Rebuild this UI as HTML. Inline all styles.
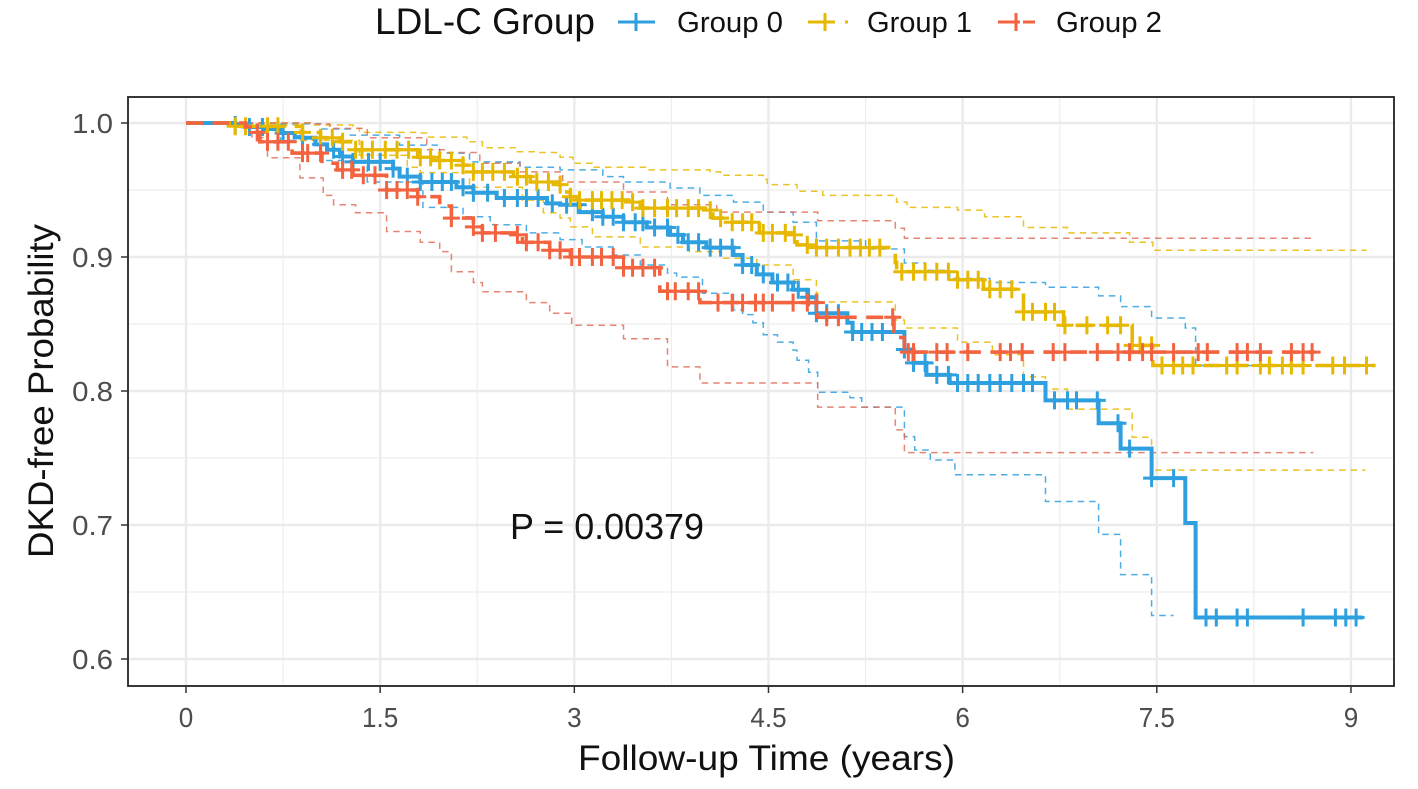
<!DOCTYPE html>
<html lang="en">
<head>
<meta charset="utf-8">
<title>DKD-free Probability by LDL-C Group</title>
<style>
html,body{margin:0;padding:0;background:#fff;}
svg{display:block;font-family:"Liberation Sans",sans-serif;}
</style>
</head>
<body>
<svg id="chart" xmlns="http://www.w3.org/2000/svg" width="1418" height="789" viewBox="0 0 1418 789">
  <rect x="0" y="0" width="1418" height="789" fill="#ffffff"/>
  <g id="grid"></g>
  <g id="marks"></g>
  <rect x="128" y="97" width="1266" height="589" fill="none" stroke="#222222" stroke-width="1.8"/>
  <g id="axes"></g>
  <text x="578" y="770" font-size="35" fill="#111" textLength="377" lengthAdjust="spacingAndGlyphs">Follow-up Time (years)</text>
  <text transform="translate(53,558) rotate(-90)" font-size="35" fill="#111" textLength="334" lengthAdjust="spacingAndGlyphs">DKD-free Probability</text>
  <text x="510" y="539" font-size="36" fill="#111" textLength="194" lengthAdjust="spacingAndGlyphs">P = 0.00379</text>
  <g>
    <text x="375" y="34" font-size="37" fill="#111" textLength="220" lengthAdjust="spacingAndGlyphs">LDL-C Group</text>
    <g>
      <path d="M618 22H655M636 13V31" stroke="#2E9FDF" stroke-width="3" fill="none"/>
      <text x="677" y="32" font-size="29" fill="#111" textLength="106" lengthAdjust="spacingAndGlyphs">Group 0</text>
    </g>
    <g>
      <path d="M808 22H835M845 22H848M825 13V31" stroke="#E7B800" stroke-width="3" fill="none"/>
      <text x="867" y="32" font-size="29" fill="#111" textLength="105" lengthAdjust="spacingAndGlyphs">Group 1</text>
    </g>
    <g>
      <path d="M998 22H1020M1023 22H1035M1016 13V31" stroke="#F4633F" stroke-width="3" fill="none"/>
      <text x="1056" y="32" font-size="29" fill="#111" textLength="106" lengthAdjust="spacingAndGlyphs">Group 2</text>
    </g>
  </g>
</svg>
<script>
const xTickValues = [0, 1.5, 3, 4.5, 6, 7.5, 9];
const xTickLabels = ['0', '1.5', '3', '4.5', '6', '7.5', '9'];
const xMinorValues = [0.75, 2.25, 3.75, 5.25, 6.75, 8.25];
const yTickValues = [0.6, 0.7, 0.8, 0.9, 1.0];
const yTickLabels = ['0.6', '0.7', '0.8', '0.9', '1.0'];
const yMinorValues = [0.65, 0.75, 0.85, 0.95];

const group0Curve = [[0,1],[.38,.9985],[.49,.997],[.61,.9955],[.73,.9925],[.84,.9895],[.90,.989],[1.0,.984],[1.09,.98],[1.19,.975],[1.29,.971],[1.60,.966],[1.65,.96],[1.81,.956],[2.09,.952],[2.22,.948],[2.40,.944],[2.79,.94],[2.89,.939],[3.04,.9335],[3.22,.93],[3.38,.926],[3.56,.922],[3.74,.9165],[3.84,.911],[4.02,.907],[4.23,.9015],[4.30,.894],[4.41,.887],[4.53,.881],[4.69,.8755],[4.80,.87],[4.87,.858],[5.11,.851],[5.15,.844],[5.55,.831],[5.62,.821],[5.72,.812],[5.90,.806],[6.64,.793],[7.05,.776],[7.22,.757],[7.46,.735],[7.72,.7015],[7.80,.631],[9.09,.631]];
const group0Upper = [[.38,1],[.73,.9993],[1.04,.9955],[1.27,.991],[1.65,.9835],[1.96,.9775],[2.19,.971],[2.58,.967],[2.89,.965],[3.22,.96],[3.38,.956],[3.74,.9515],[3.97,.946],[4.23,.941],[4.46,.9335],[4.69,.926],[4.87,.912],[5.25,.906],[5.55,.8955],[5.71,.89],[5.90,.884],[6.21,.881],[6.64,.8775],[7.05,.871],[7.22,.863],[7.46,.8545],[7.72,.847],[7.80,.819],[9.05,.819]];
const group0Lower = [[.38,.9985],[.73,.987],[1.04,.972],[1.40,.956],[1.83,.937],[2.14,.93],[2.35,.924],[2.63,.918],[2.89,.913],[3.06,.9075],[3.30,.9015],[3.51,.894],[3.72,.888],[3.79,.885],[3.99,.873],[4.23,.8605],[4.30,.857],[4.38,.851],[4.46,.842],[4.57,.8365],[4.69,.8305],[4.72,.823],[4.81,.814],[4.88,.799],[5.13,.795],[5.22,.788],[5.55,.766],[5.63,.756],[5.75,.7485],[5.94,.7375],[6.64,.7175],[7.05,.693],[7.22,.663],[7.46,.6325],[7.63,.6325]];
const group0Censor = [.38,.49,.59,.75,.90,1.04,1.14,1.21,1.29,1.41,1.50,1.60,1.71,1.81,1.90,1.98,2.05,2.14,2.22,2.33,2.46,2.56,2.63,2.72,2.83,2.94,3.03,3.14,3.22,3.30,3.38,3.47,3.53,3.62,3.72,3.80,3.88,3.96,4.05,4.13,4.22,4.30,4.37,4.46,4.57,4.65,4.73,4.81,4.87,4.95,5.04,5.15,5.22,5.30,5.38,5.55,5.62,5.71,5.80,5.89,5.96,6.04,6.12,6.21,6.29,6.38,6.47,6.54,6.71,6.81,6.88,7.04,7.20,7.29,7.46,7.63,7.88,7.96,8.12,8.20,8.63,8.88,8.96,9.04];

const group1Curve = [[0,1],[.35,.9975],[.90,.993],[1.04,.989],[1.19,.986],[1.29,.98],[1.79,.9745],[1.91,.972],[2.14,.9685],[2.22,.9635],[2.53,.96],[2.66,.956],[2.87,.954],[2.91,.9485],[2.97,.945],[3.04,.9425],[3.43,.941],[3.51,.9365],[4.05,.935],[4.07,.929],[4.20,.926],[4.41,.925],[4.43,.918],[4.70,.9165],[4.72,.909],[4.87,.907],[5.48,.896],[5.49,.889],[5.96,.883],[6.16,.876],[6.47,.859],[6.78,.849],[7.31,.834],[7.47,.819],[9.19,.819]];
const group1Upper = [[.38,1],[.98,.9985],[1.29,.996],[1.34,.993],[1.78,.9925],[1.86,.9895],[2.17,.986],[2.29,.9815],[2.56,.9785],[2.71,.978],[2.89,.9745],[2.99,.97],[3.14,.967],[3.55,.965],[4.05,.9635],[4.13,.961],[4.46,.958],[4.49,.954],[4.72,.949],[4.92,.946],[5.49,.941],[5.57,.937],[5.96,.935],[6.17,.93],[6.47,.922],[6.81,.918],[7.29,.911],[7.47,.905],[9.12,.905]];
const group1Lower = [[.38,.9985],[.88,.987],[1.34,.976],[1.71,.967],[1.81,.963],[2.19,.952],[2.60,.9425],[2.76,.933],[2.89,.929],[2.97,.9225],[3.14,.915],[3.51,.9075],[3.89,.904],[4.13,.899],[4.41,.894],[4.69,.883],[4.87,.873],[4.88,.8665],[5.48,.853],[5.55,.847],[5.96,.8365],[6.23,.827],[6.47,.8105],[6.64,.8015],[6.81,.7865],[7.31,.7655],[7.46,.741],[9.11,.741]];
const group1Censor = [.38,.46,.63,.71,.90,1.04,1.13,1.21,1.31,1.36,1.44,1.54,1.63,1.72,1.81,1.89,1.96,2.05,2.14,2.22,2.29,2.37,2.46,2.56,2.63,2.71,2.80,2.89,2.97,3.04,3.14,3.21,3.29,3.37,3.45,3.53,3.62,3.72,3.79,3.88,3.96,4.05,4.13,4.22,4.30,4.37,4.46,4.53,4.63,4.70,4.80,4.87,4.95,5.04,5.13,5.21,5.28,5.36,5.53,5.62,5.71,5.80,5.89,5.96,6.04,6.12,6.21,6.29,6.38,6.47,6.54,6.64,6.71,6.79,6.96,7.12,7.22,7.31,7.37,7.46,7.54,7.63,7.70,7.78,8.04,8.12,8.30,8.37,8.47,8.54,8.63,8.86,8.95,9.12];

const group2Curve = [[0,1],[.46,.997],[.52,.993],[.57,.986],[.82,.9775],[1.05,.97],[1.17,.965],[1.29,.961],[1.55,.95],[1.79,.945],[1.96,.938],[2.05,.929],[2.22,.9225],[2.29,.918],[2.56,.9165],[2.60,.911],[2.81,.905],[2.97,.9],[3.38,.892],[3.66,.8745],[3.97,.866],[4.88,.855],[5.47,.84],[5.55,.829],[8.72,.829]];
const group2Upper = [[.38,1],[.98,.9993],[1.11,.996],[1.40,.989],[1.86,.98],[2.02,.978],[2.27,.97],[2.58,.9635],[2.91,.956],[3.38,.9485],[3.72,.939],[4.10,.9335],[4.88,.927],[5.48,.9215],[5.55,.914],[8.70,.914]];
const group2Lower = [[.38,.9985],[.51,.989],[.63,.974],[.88,.959],[1.06,.946],[1.14,.939],[1.31,.933],[1.55,.919],[1.81,.911],[1.96,.904],[2.05,.889],[2.22,.881],[2.29,.874],[2.63,.866],[2.81,.858],[2.98,.849],[3.38,.839],[3.72,.818],[3.97,.806],[4.88,.788],[5.48,.771],[5.55,.754],[8.71,.754]];
const group2Censor = [.55,.63,.71,.79,.90,.94,1.04,1.21,1.28,1.37,1.46,1.55,1.63,1.71,1.79,2.05,2.22,2.29,2.39,2.56,2.63,2.72,2.81,2.89,2.98,3.04,3.14,3.21,3.30,3.38,3.45,3.53,3.62,3.72,3.78,3.88,3.96,4.11,4.22,4.30,4.40,4.46,4.53,4.69,4.80,4.87,4.95,5.04,5.46,5.58,5.62,5.80,5.88,6.04,6.29,6.37,6.46,6.70,6.79,7.04,7.20,7.29,7.39,7.46,7.63,7.82,7.89,8.12,8.20,8.30,8.54,8.63,8.70];

const SVG_NS = 'http://www.w3.org/2000/svg';
const xScale = t => 186 + t * 129.44;
const yScale = s => 123 + (1 - s) * 1340;

function make(parent, tag, attrs) {
  const el = document.createElementNS(SVG_NS, tag);
  for (const k in attrs) el.setAttribute(k, attrs[k]);
  parent.appendChild(el);
  return el;
}
function stepPath(curve) {
  let d = 'M' + xScale(curve[0][0]).toFixed(1) + ' ' + yScale(curve[0][1]).toFixed(1);
  for (let i = 1; i < curve.length; i++) {
    d += 'H' + xScale(curve[i][0]).toFixed(1) + 'V' + yScale(curve[i][1]).toFixed(1);
  }
  return d;
}
function survivalAt(curve, t) {
  let s = curve[0][1];
  for (const p of curve) { if (p[0] <= t) s = p[1]; else break; }
  return s;
}
function squeeze(label, factor) {
  label.setAttribute('textLength', (label.getComputedTextLength() * factor).toFixed(1));
  label.setAttribute('lengthAdjust', 'spacingAndGlyphs');
}

const grid = document.getElementById('grid');
const axes = document.getElementById('axes');
const marks = document.getElementById('marks');

yMinorValues.forEach(v => {
  const l = make(grid, 'line', {x1: 128, x2: 1394, y1: yScale(v), y2: yScale(v), stroke: '#eeeeee', 'stroke-width': 1.2});
  
  
});
xMinorValues.forEach(v => {
  const l = make(grid, 'line', {x1: xScale(v), x2: xScale(v), y1: 97, y2: 686, stroke: '#eeeeee', 'stroke-width': 1.2});
  
  
});
yTickValues.forEach((v, i) => {
  const y = yScale(v);
  const l = make(grid, 'line', {x1: 128, x2: 1394, y1: y, y2: y, stroke: '#ebebeb', 'stroke-width': 2.4});
  
  
  const t = make(axes, 'line', {x1: 121, x2: 128, y1: y, y2: y, stroke: '#333333', 'stroke-width': 1.5});
  
  
  const label = make(axes, 'text', {x: 113, y: y + 10, 'text-anchor': 'end', 'font-size': 28, fill: '#4d4d4d'});
  label.textContent = yTickLabels[i];
  
  
  squeeze(label, 1.05);
});
xTickValues.forEach((v, i) => {
  const x = xScale(v);
  const l = make(grid, 'line', {x1: x, x2: x, y1: 97, y2: 686, stroke: '#ebebeb', 'stroke-width': 2.4});
  
  
  const t = make(axes, 'line', {x1: x, x2: x, y1: 686, y2: 693, stroke: '#333333', 'stroke-width': 1.5});
  
  
  const label = make(axes, 'text', {x: x, y: 727, 'text-anchor': 'middle', 'font-size': 28, fill: '#4d4d4d'});
  label.textContent = xTickLabels[i];
  
  
  squeeze(label, 0.93);
});

function drawBand(curve, color, name) {
  const p = make(marks, 'path', {d: stepPath(curve), fill: 'none', stroke: color, 'stroke-width': 1.5, 'stroke-dasharray': '6.5 5', opacity: 0.85});
  
  
}
function drawCurve(curve, censor, color, dash, width, name) {
  const p = make(marks, 'path', {d: stepPath(curve), fill: 'none', stroke: color, 'stroke-width': width});
  if (dash) p.setAttribute('stroke-dasharray', dash);
  
  
  censor.forEach(t => {
    const x = xScale(t), y = yScale(survivalAt(curve, t));
    const c = make(marks, 'path', {d: 'M' + (x - 8.5).toFixed(1) + ' ' + y.toFixed(1) + 'h17M' + x.toFixed(1) + ' ' + (y - 9).toFixed(1) + 'v18', fill: 'none', stroke: color, 'stroke-width': 3});
    
    
  });
}

drawBand(group0Upper, '#2E9FDF', 'group-0-upper-ci');
drawBand(group0Lower, '#2E9FDF', 'group-0-lower-ci');
drawBand(group1Upper, '#E7B800', 'group-1-upper-ci');
drawBand(group1Lower, '#E7B800', 'group-1-lower-ci');
drawBand(group2Upper, '#E0705A', 'group-2-upper-ci');
drawBand(group2Lower, '#E0705A', 'group-2-lower-ci');
drawCurve(group0Curve, group0Censor, '#2E9FDF', null, 4, 'group-0');
drawCurve(group1Curve, group1Censor, '#E7B800', '17 11', 3.6, 'group-1');
drawCurve(group2Curve, group2Censor, '#F4633F', '17 9.5', 3.6, 'group-2');
</script>
</body>
</html>
